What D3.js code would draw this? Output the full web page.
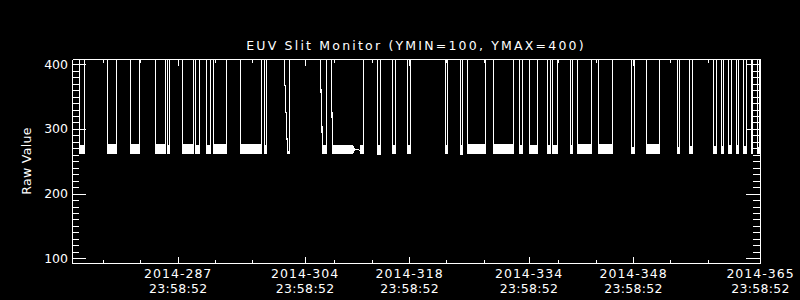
<!DOCTYPE html>
<html>
<head>
<meta charset="utf-8">
<script src="https://cdn.jsdelivr.net/npm/d3@7"></script>
<style>
  body { margin: 0; background: #000; }
  svg { display: block; }
  text { font-family: "DejaVu Sans", sans-serif; fill: #fff; }
</style>
</head>
<body>
<script>
const W = 800, H = 300;
const plotLeft = 72, plotRight = 760, plotTop = 59, plotBottom = 263;

// x = day of year 2014, tick labels carry the same clock time
const yearLabel = "2014";
const timeLabel = "23:58:52";
const majorDays = [287, 304, 318, 334, 348, 365];
const minorDays = [277, 282, 292, 297, 308, 313, 323, 328, 338, 343, 353, 358];
const yTicks = [100, 200, 300, 400];

// periods where the raw value sits in its normal band (outside them it is off scale)
const onStart = [273.82, 277.53, 280.74, 283.96, 285.57, 287.62, 289.45, 290.88, 291.73, 295.39,
                 298.56, 301.71, 306.40, 307.74, 311.55, 313.70, 315.75, 317.76, 322.81, 324.86,
                 325.79, 329.28, 332.81, 334.06, 336.51, 337.18, 339.55, 340.53, 343.34, 347.76,
                 349.77, 353.89, 355.49, 358.75, 359.78, 360.76, 361.79, 362.77, 363.80, 364.67];
const onEnd   = [274.58, 278.83, 281.91, 285.30, 285.87, 289.18, 289.89, 291.42, 293.56, 298.25,
                 298.92, 302.04, 306.96, 310.44, 311.86, 314.19, 316.20, 318.16, 323.12, 325.18,
                 328.21, 332.01, 333.16, 335.23, 336.97, 337.85, 339.91, 342.46, 345.22, 348.17,
                 351.57, 354.25, 355.94, 359.20, 360.14, 361.16, 362.15, 363.17, 364.03, 364.94];
const onLow   = [262, 262, 262, 262, 262, 262, 262, 262, 262, 262,
                 262, 262, 262, 262, 262, 261, 262, 262, 262, 261,
                 262, 262, 262, 262, 262, 262, 262, 262, 262, 262,
                 262, 262, 262, 262, 262, 262, 262, 262, 262, 262];
const onTop   = [275, 276, 276, 276, 275, 276, 274, 275, 276, 276,
                 274, 265, 275, 275, 275, 275, 275, 275, 274, 274,
                 276, 276, 274, 275, 274, 275, 274, 276, 276, 272,
                 276, 272, 273, 273, 273, 274, 274, 273, 274, 272];

// last off-scale samples right before a sloped drop into the band
const rampDays = [301.20, 306.06, 307.54];
// sparse samples between two in-band periods without going off scale
const tailDays = [310.75, 311.19, 311.42];
const tailValues = [268, 268, 266];
const offScale = 420;

const x = d3.scaleLinear().domain([272.84, 365]).range([plotLeft, plotRight]);
const y = d3.scaleLinear().domain([92.7, 408.2]).range([plotBottom, plotTop]);

const svg = d3.select("body").append("svg")
    .attr("width", W)
    .attr("height", H)
    .style("background", "#000");

svg.append("defs").append("clipPath")
    .attr("id", "plotClip")
    .append("rect")
    .attr("x", plotLeft).attr("y", plotTop)
    .attr("width", plotRight - plotLeft).attr("height", plotBottom - plotTop);

// build min/max envelope points from the periods
const events = [];
onStart.forEach((s, i) => events.push({kind: "block", d: s, end: onEnd[i], lo: onLow[i], hi: onTop[i]}));
rampDays.forEach(d => events.push({kind: "ramp", d: d}));
tailDays.forEach((d, i) => events.push({kind: "tail", d: d, v: tailValues[i]}));
events.sort((a, b) => a.d - b.d);

const pts = [];
events.forEach((e, i) => {
    const prev = events[i - 1], next = events[i + 1];
    if (e.kind === "ramp") {
        pts.push({d: e.d, lo: offScale, hi: offScale});
    } else if (e.kind === "tail") {
        pts.push({d: e.d, lo: e.v, hi: e.v});
    } else {
        if (!prev || prev.kind === "block") pts.push({d: e.d, lo: offScale, hi: offScale});
        pts.push({d: e.d, lo: e.lo, hi: e.hi});
        pts.push({d: e.end, lo: e.lo, hi: e.hi});
        if (!next || next.kind !== "tail") pts.push({d: e.end, lo: offScale, hi: offScale});
    }
});

svg.append("path")
    .datum(pts)
    .attr("clip-path", "url(#plotClip)")
    .attr("d", d3.area().x(p => x(p.d)).y0(p => y(p.lo)).y1(p => y(p.hi)))
    .attr("fill", "#fff")
    .attr("stroke", "#fff")
    .attr("stroke-width", 1)
    .attr("shape-rendering", "crispEdges");

function styleAxis(g) {
    g.attr("color", "#fff")
        .attr("font-family", null)
        .attr("font-size", null)
        .attr("shape-rendering", "crispEdges");
}

// bottom axis
const gx = svg.append("g")
    .attr("transform", "translate(0," + plotBottom + ")")
    .call(d3.axisBottom(x).tickValues(majorDays).tickSize(-6.5).tickSizeOuter(0))
    .call(styleAxis);
gx.selectAll(".tick text").remove();
gx.selectAll(".tick").each(function(d) {
    const t = d3.select(this);
    t.append("text")
        .attr("y", 14.7)
        .attr("text-anchor", "middle")
        .style("font-size", "12.5px")
        .style("letter-spacing", "1px")
        .text(yearLabel + "-" + d);
    t.append("text")
        .attr("y", 29.7)
        .attr("text-anchor", "middle")
        .style("font-size", "12.5px")
        .style("letter-spacing", "0.3px")
        .text(timeLabel);
});
svg.append("g")
    .attr("transform", "translate(0," + plotBottom + ")")
    .call(d3.axisBottom(x).tickValues(minorDays).tickSize(-3.5).tickFormat(""))
    .call(styleAxis)
    .select(".domain").remove();

// top axis (mirror ticks)
svg.append("g")
    .attr("transform", "translate(0," + plotTop + ")")
    .call(d3.axisTop(x).tickValues(majorDays).tickSize(-6.5).tickSizeOuter(0).tickFormat(""))
    .call(styleAxis);
svg.append("g")
    .attr("transform", "translate(0," + plotTop + ")")
    .call(d3.axisTop(x).tickValues(minorDays).tickSize(-3.5).tickFormat(""))
    .call(styleAxis)
    .select(".domain").remove();

// left axis
const gy = svg.append("g")
    .attr("transform", "translate(" + plotLeft + ",0)")
    .call(d3.axisLeft(y).tickValues(yTicks).tickSize(-14).tickSizeOuter(0).tickPadding(4))
    .call(styleAxis);
gy.selectAll(".tick text").style("font-size", "12.5px");
svg.append("g")
    .attr("transform", "translate(" + plotLeft + ",0)")
    .call(d3.axisLeft(y).tickValues(d3.range(100, 401, 10)).tickSize(-7).tickFormat(""))
    .call(styleAxis)
    .select(".domain").remove();

// right axis (mirror ticks)
svg.append("g")
    .attr("transform", "translate(" + plotRight + ",0)")
    .call(d3.axisRight(y).tickValues(yTicks).tickSize(-14).tickSizeOuter(0).tickFormat(""))
    .call(styleAxis);
svg.append("g")
    .attr("transform", "translate(" + plotRight + ",0)")
    .call(d3.axisRight(y).tickValues(d3.range(100, 401, 10)).tickSize(-7).tickFormat(""))
    .call(styleAxis)
    .select(".domain").remove();

// titles
svg.append("text")
    .attr("x", (plotLeft + plotRight) / 2)
    .attr("y", 50)
    .attr("text-anchor", "middle")
    .style("font-size", "12.5px")
    .style("letter-spacing", "2.2px")
    .text("EUV Slit Monitor (YMIN=100, YMAX=400)");

svg.append("text")
    .attr("transform", "translate(31,161) rotate(-90)")
    .attr("text-anchor", "middle")
    .style("font-size", "12.5px")
    .style("letter-spacing", "0.3px")
    .text("Raw Value");
</script>
</body>
</html>
